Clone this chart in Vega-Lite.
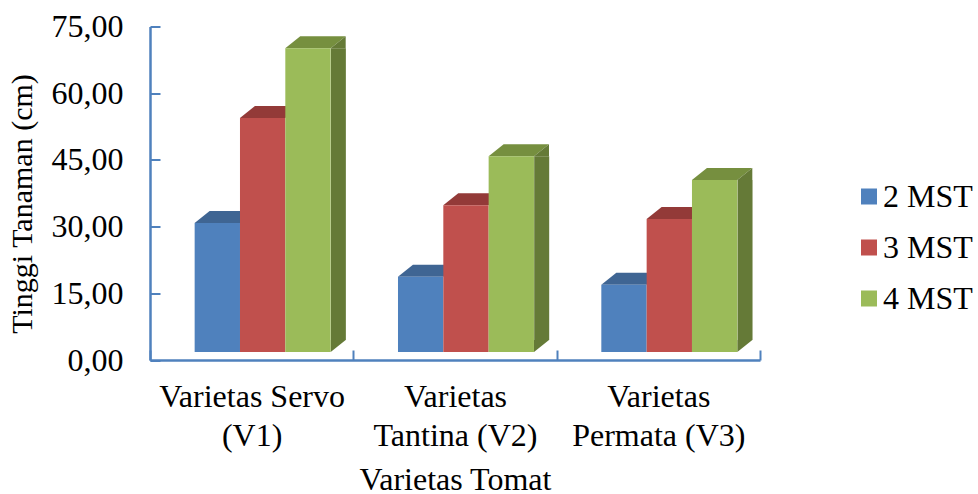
{"$schema":"https://vega.github.io/schema/vega-lite/v6.json","width":610,"height":333.5,"autosize":"none","padding":{"left":150,"top":26.5,"right":218,"bottom":134},"background":"white","config":{"view":{"stroke":null},"font":"Liberation Serif"},
"data":{"values":[
{"variety":"Varietas Servo (V1)","series":"2 MST","value":30.8},{"variety":"Varietas Servo (V1)","series":"3 MST","value":54.4},{"variety":"Varietas Servo (V1)","series":"4 MST","value":70.1},
{"variety":"Varietas Tantina (V2)","series":"2 MST","value":18.7},{"variety":"Varietas Tantina (V2)","series":"3 MST","value":34.8},{"variety":"Varietas Tantina (V2)","series":"4 MST","value":45.8},
{"variety":"Varietas Permata (V3)","series":"2 MST","value":16.9},{"variety":"Varietas Permata (V3)","series":"3 MST","value":31.7},{"variety":"Varietas Permata (V3)","series":"4 MST","value":40.5}]},
"encoding":{"x":{"field":"variety","type":"nominal","sort":null,"scale":{"paddingInner":0,"paddingOuter":0},"title":"Varietas Tomat","axis":{"labelAngle":0,"labelFont":"Liberation Serif","labelFontSize":32,"labelColor":"#000","labelLimit":0,"labelLineHeight":39,"labelPadding":46,"labelBaseline":"middle","labelExpr":"datum.value=='Varietas Servo (V1)'?['Varietas Servo','(V1)']:datum.value=='Varietas Tantina (V2)'?['Varietas','Tantina (V2)']:datum.value=='Varietas Permata (V3)'?['Varietas','Permata (V3)']:''","tickBand":"extent","tickSize":-10,"tickWidth":2,"tickColor":"#4F81BD","domainColor":"#4F81BD","domainWidth":2.5,"titleFont":"Liberation Serif","titleFontSize":32,"titleFontWeight":"normal","titleColor":"#000","titleY":104}},
"xOffset":{"field":"series","type":"nominal","scale":{"paddingOuter":0.743,"paddingInner":0,"align":0.663}},
"y":{"field":"value","type":"quantitative","scale":{"domain":[0,75],"nice":false},"title":"Tinggi Tanaman (cm)","axis":{"values":[0,15,30,45,60,75],"grid":false,"labelExpr":"replace(format(datum.value,'.2f'),'.',',')","labelFont":"Liberation Serif","labelFontSize":32,"labelColor":"#000","labelPadding":37,"tickSize":-10,"tickWidth":2,"tickColor":"#4F81BD","domainColor":"#4F81BD","domainWidth":2.5,"titleFont":"Liberation Serif","titleFontSize":30,"titleFontWeight":"normal","titleColor":"#000","titleX":-113,"titleY":177}}},
"layer":[
{"mark":{"type":"point","shape":"M-22.7,0 L22.7,0 L37.7,-12 L-7.7,-12 Z","size":4,"filled":true,"opacity":1,"strokeWidth":0},
 "encoding":{"color":{"field":"series","type":"nominal","legend":null,"scale":{"domain":["2 MST","3 MST","4 MST"],"range":["#3F6593","#933A38","#768F3F"]}}}},
{"transform":[{"filter":"datum.series==='4 MST'"}],"mark":{"type":"bar","width":15,"xOffset":86.7,"color":"#657A37"},"encoding":{"xOffset":null,"y2":{"datum":4.5}}},
{"transform":[{"filter":"datum.series==='4 MST'"}],"mark":{"type":"point","shape":"M22.7,0 L37.7,-12 L37.7,0 Z","size":4,"filled":true,"opacity":1,"strokeWidth":0,"color":"#657A37"}},
{"transform":[{"filter":"datum.series==='4 MST'"}],"mark":{"type":"point","shape":"M22.7,0 L37.7,-12 L22.7,-12 Z","size":4,"filled":true,"opacity":1,"strokeWidth":0,"color":"#657A37"},"encoding":{"y":{"datum":1.8}}},
{"mark":{"type":"bar"},
 "encoding":{"y2":{"datum":1.8},"color":{"field":"series","type":"nominal","title":null,"scale":{"domain":["2 MST","3 MST","4 MST"],"range":["#4F81BD","#C0504D","#9BBB59"]},
 "legend":{"orient":"none","legendX":703,"legendY":154,"symbolType":"square","symbolSize":256,"symbolStrokeWidth":0,"labelFont":"Liberation Serif","labelFontSize":32,"labelColor":"#000","rowPadding":19,"labelOffset":-2,"labelLimit":0}}}}
],
"resolve":{"scale":{"color":"independent"}}}
